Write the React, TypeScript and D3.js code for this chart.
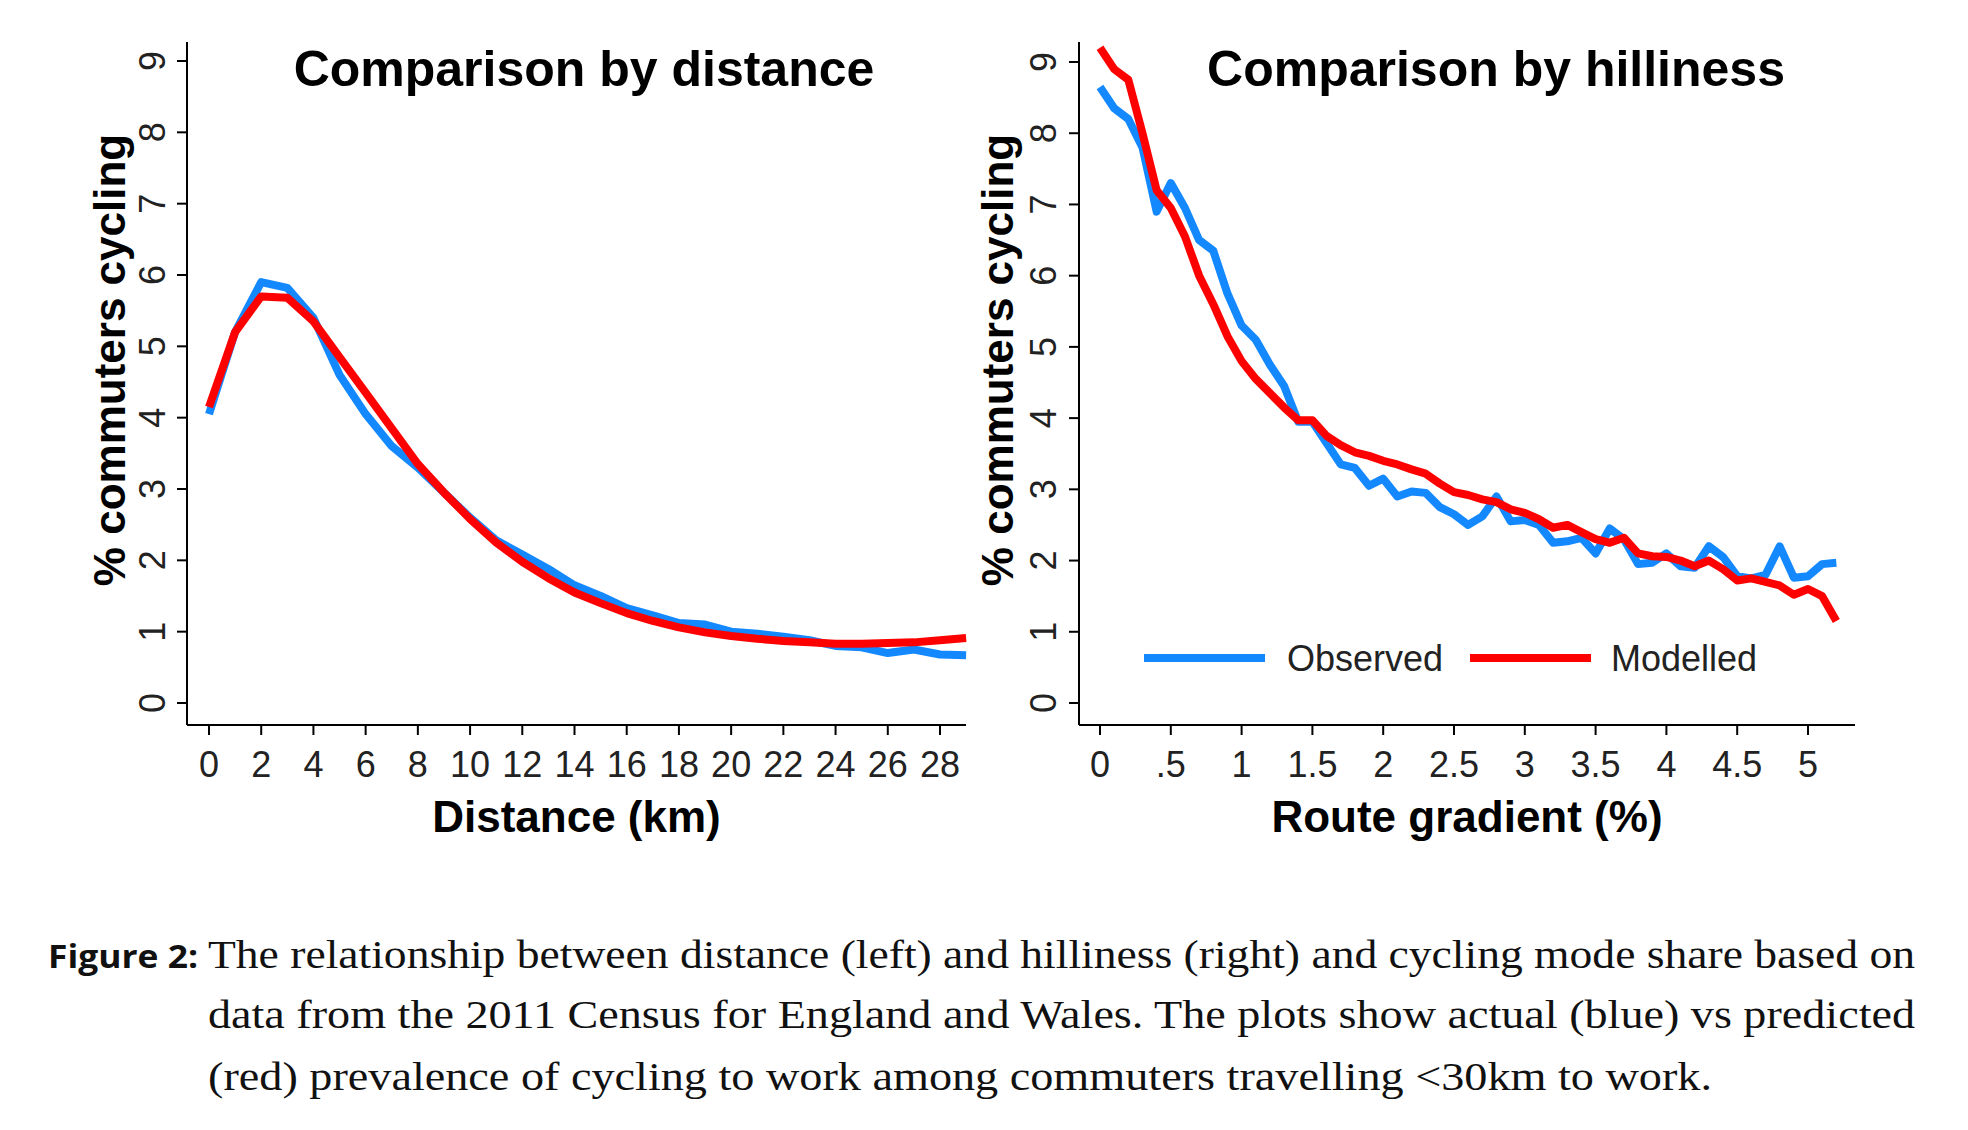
import React from "react";
import * as d3 from "d3";

const distX = d3.range(0, 30);
const distObserved = [4.05,5.2,5.9,5.82,5.4,4.6,4.05,3.6,3.3,2.95,2.6,2.28,2.08,1.88,1.65,1.5,1.33,1.23,1.12,1.1,1.0,0.97,0.93,0.88,0.8,0.78,0.7,0.75,0.68,0.67];
const distModelled = [4.15,5.2,5.7,5.68,5.35,4.85,4.35,3.85,3.35,2.95,2.58,2.25,1.98,1.75,1.55,1.4,1.26,1.15,1.06,0.99,0.94,0.9,0.87,0.85,0.83,0.83,0.84,0.85,0.88,0.91];
const distTicks = d3.range(0, 29, 2);

const gradX = d3.range(0, 53).map(i => i / 10);
const gradObserved = [8.65,8.35,8.2,7.8,6.9,7.3,6.95,6.5,6.35,5.75,5.3,5.1,4.75,4.45,3.95,3.95,3.65,3.35,3.3,3.05,3.15,2.9,2.97,2.95,2.75,2.65,2.5,2.62,2.9,2.55,2.57,2.5,2.25,2.27,2.32,2.1,2.45,2.3,1.95,1.97,2.1,1.92,1.9,2.2,2.05,1.78,1.75,1.8,2.2,1.76,1.78,1.95,1.97];
const gradModelled = [9.2,8.9,8.75,8.0,7.2,6.95,6.55,6.0,5.6,5.15,4.8,4.55,4.35,4.15,3.97,3.97,3.75,3.62,3.52,3.47,3.4,3.35,3.28,3.22,3.08,2.96,2.92,2.86,2.82,2.72,2.67,2.58,2.46,2.5,2.4,2.3,2.25,2.32,2.1,2.06,2.05,2.0,1.92,2.0,1.88,1.72,1.75,1.7,1.65,1.52,1.6,1.5,1.15];
const gradTicks = d3.range(0, 11).map(i => i / 2);
const gradTickLabels = ["0", ".5", "1", "1.5", "2", "2.5", "3", "3.5", "4", "4.5", "5"];
const yTicks = d3.range(0, 10);

const BLUE = "#1489FF";
const RED = "#FF0000";
const SANS = "'Liberation Sans', Arial, sans-serif";

function Panel(props: any) {
  const { xs, obs, mod, xDomain, xRange, yRange, axisLeft, axisRight, axisTop, axisBottom,
    ticks, tickLabels, title, titleX, xTitle, yTitleX, yTickX, legend } = props;
  const x = d3.scaleLinear().domain(xDomain).range(xRange);
  const y = d3.scaleLinear().domain([0, 9]).range(yRange);
  const line = d3.line<number>().x((_, i) => x(xs[i])).y(d => y(d));
  return (
    <g>
      <line x1={axisLeft} x2={axisLeft} y1={axisTop} y2={axisBottom} stroke="#000" strokeWidth={2} />
      <line x1={axisLeft} x2={axisRight} y1={axisBottom} y2={axisBottom} stroke="#000" strokeWidth={2} />
      {yTicks.map(t => (
        <g key={"y" + t}>
          <line x1={axisLeft - 10} x2={axisLeft} y1={y(t)} y2={y(t)} stroke="#000" strokeWidth={2} />
          <text transform={`translate(${yTickX},${y(t)}) rotate(-90)`} textAnchor="middle" dominantBaseline="central"
            fontFamily={SANS} fontSize={36} fill="#222">{t}</text>
        </g>
      ))}
      {ticks.map((t: number, i: number) => (
        <g key={"x" + i}>
          <line x1={x(t)} x2={x(t)} y1={axisBottom} y2={axisBottom + 10} stroke="#000" strokeWidth={2} />
          <text x={x(t)} y={axisBottom + 52} textAnchor="middle" fontFamily={SANS} fontSize={36} fill="#222">{tickLabels[i]}</text>
        </g>
      ))}
      <path d={line(obs) || ""} fill="none" stroke={BLUE} strokeWidth={8} strokeLinejoin="round" />
      <path d={line(mod) || ""} fill="none" stroke={RED} strokeWidth={8} strokeLinejoin="round" />
      <text x={titleX} y={86} textAnchor="middle" fontFamily={SANS} fontWeight="bold" fontSize={50}>{title}</text>
      <text x={(axisLeft + axisRight) / 2} y={832} textAnchor="middle" fontFamily={SANS} fontWeight="bold" fontSize={44}>{xTitle}</text>
      <text transform={`translate(${yTitleX},360) rotate(-90)`} textAnchor="middle" dominantBaseline="central"
        fontFamily={SANS} fontWeight="bold" fontSize={44}>% commuters cycling</text>
      {legend && (
        <g>
          <line x1={1144} x2={1265} y1={658} y2={658} stroke={BLUE} strokeWidth={8} />
          <text x={1287} y={671} fontFamily={SANS} fontSize={36} fill="#222">Observed</text>
          <line x1={1470} x2={1591} y1={658} y2={658} stroke={RED} strokeWidth={8} />
          <text x={1611} y={671} fontFamily={SANS} fontSize={36} fill="#222">Modelled</text>
        </g>
      )}
    </g>
  );
}

export default function App() {
  return (
    <svg width={1968} height={1130} style={{ position: "absolute", left: 0, top: 0, background: "#fff" }}>
      <rect width={1968} height={1130} fill="#fff" />
      <Panel xs={distX} obs={distObserved} mod={distModelled} xDomain={[0, 28]} xRange={[209, 940]}
        yRange={[703, 61]} axisLeft={187} axisRight={966} axisTop={42} axisBottom={725}
        ticks={distTicks} tickLabels={distTicks.map(String)} title="Comparison by distance" titleX={584}
        xTitle="Distance (km)" yTitleX={109} yTickX={152} legend={false} />
      <Panel xs={gradX} obs={gradObserved} mod={gradModelled} xDomain={[0, 5]} xRange={[1100, 1808]}
        yRange={[703, 62]} axisLeft={1079} axisRight={1855} axisTop={42} axisBottom={725}
        ticks={gradTicks} tickLabels={gradTickLabels} title="Comparison by hilliness" titleX={1496}
        xTitle="Route gradient (%)" yTitleX={997} yTickX={1043} legend={true} />
      <g fontFamily="'Liberation Serif', serif" fontSize={40} fill="#111">
        <text x={48} y={968} fontFamily="'Open Sans', sans-serif" fontWeight="bold" fontSize={32}
          textLength={150} lengthAdjust="spacingAndGlyphs">Figure 2:</text>
        <text x={208} y={968} textLength={1707} lengthAdjust="spacingAndGlyphs">The relationship between distance (left) and hilliness (right) and cycling mode share based on</text>
        <text x={208} y={1028} textLength={1707} lengthAdjust="spacingAndGlyphs">data from the 2011 Census for England and Wales.  The plots show actual (blue) vs predicted</text>
        <text x={208} y={1090} textLength={1504} lengthAdjust="spacingAndGlyphs">(red) prevalence of cycling to work among commuters travelling &lt;30km to work.</text>
      </g>
    </svg>
  );
}
